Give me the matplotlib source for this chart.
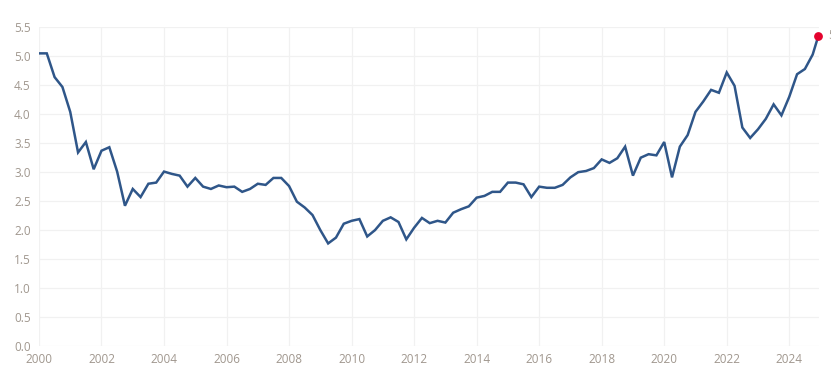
import numpy as np
import matplotlib
matplotlib.use("Agg")
import matplotlib.pyplot as plt

# quarterly series, 2000Q1 .. 2024Q4 plus the latest reading
years = list(np.arange(2000, 2025, 0.25)) + [2024.93]
values = [
    5.05, 5.05, 4.64, 4.47, 4.04, 3.34, 3.52, 3.05,   # 2000-2001
    3.37, 3.43, 3.01, 2.42, 2.71, 2.57, 2.80, 2.82,   # 2002-2003
    3.01, 2.97, 2.94, 2.75, 2.90, 2.75, 2.71, 2.77,   # 2004-2005
    2.74, 2.75, 2.66, 2.71, 2.80, 2.78, 2.90, 2.90,   # 2006-2007
    2.76, 2.49, 2.39, 2.26, 2.00, 1.77, 1.87, 2.11,   # 2008-2009
    2.16, 2.19, 1.89, 2.00, 2.16, 2.22, 2.14, 1.84,   # 2010-2011
    2.04, 2.21, 2.12, 2.16, 2.13, 2.30, 2.36, 2.41,   # 2012-2013
    2.56, 2.59, 2.66, 2.66, 2.82, 2.82, 2.79, 2.57,   # 2014-2015
    2.75, 2.73, 2.73, 2.78, 2.91, 3.00, 3.02, 3.07,   # 2016-2017
    3.22, 3.16, 3.24, 3.44, 2.94, 3.25, 3.31, 3.29,   # 2018-2019
    3.52, 2.91, 3.44, 3.64, 4.04, 4.22, 4.42, 4.37,   # 2020-2021
    4.72, 4.49, 3.77, 3.59, 3.74, 3.92, 4.17, 3.98,   # 2022-2023
    4.30, 4.69, 4.78, 5.03, 5.35,                     # 2024
]
last_label = "5.35"

xticks = list(range(2000, 2025, 2))
yticks = [0.0, 0.5, 1.0, 1.5, 2.0, 2.5, 3.0, 3.5, 4.0, 4.5, 5.0, 5.5]

line_col = "#2f5689"
dot_col = "#e4032e"
txt_col = "#a0978e"
grid_col = "#f1f1f1"

plt.rcParams["font.family"] = ["Open Sans", "DejaVu Sans"]

fig = plt.figure(figsize=(8.31, 3.78), dpi=100)
ax = fig.add_axes([0.0469, 0.0847, 0.9386, 0.8431])

ax.plot(years, values, color=line_col, lw=1.8, solid_joinstyle="miter", zorder=3)
ax.scatter([years[-1]], [values[-1]], s=28, color=dot_col, zorder=4, clip_on=False)
ax.annotate(last_label, (years[-1], values[-1]), xytext=(7, 0), textcoords="offset points",
            va="center", ha="left", fontsize=8.5, color=txt_col, annotation_clip=False)

ax.set_xlim(2000, 2024.95)
ax.set_ylim(0, 5.5)
ax.set_xticks(xticks)
ax.set_xticklabels([str(x) for x in xticks])
ax.set_yticks(yticks)
ax.set_yticklabels([f"{y:.1f}" for y in yticks])
ax.grid(True, color=grid_col, lw=0.9, zorder=0)
ax.set_axisbelow(True)
for s in ax.spines.values():
    s.set_visible(False)
ax.tick_params(length=0, labelsize=8.5, labelcolor=txt_col)
ax.tick_params(axis="x", pad=5)
ax.tick_params(axis="y", pad=6)

fig.savefig("out.png", dpi=100)
